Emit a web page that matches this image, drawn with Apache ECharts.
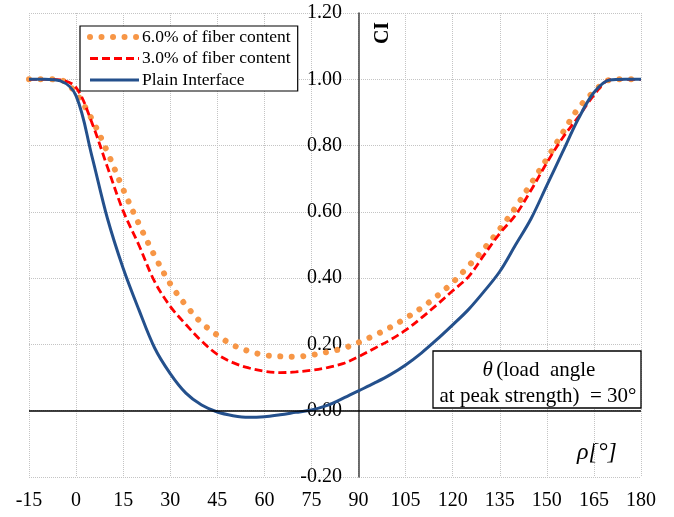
<!DOCTYPE html>
<html>
<head>
<meta charset="utf-8">
<script src="https://cdn.jsdelivr.net/npm/echarts@6/dist/echarts.min.js"></script>
<style>html,body{margin:0;padding:0;background:#fff;}#c{width:674px;height:517px;}</style>
</head>
<body>
<div id="c"></div>
<script>
var angles = [-15,-10,-5,0,5,10,15,20,25,30,35,40,45,50,55,60,65,70,75,80,85,90,95,100,105,110,115,120,125,130,135,140,145,150,155,160,165,170,175,180];
var fiber6 = [1,1,0.998,0.957,0.88,0.78,0.668,0.564,0.468,0.383,0.318,0.265,0.228,0.198,0.18,0.168,0.164,0.163,0.168,0.177,0.188,0.206,0.227,0.251,0.279,0.31,0.346,0.387,0.436,0.489,0.548,0.613,0.686,0.76,0.838,0.912,0.962,0.998,1,1];
var fiber3 = [1,1,0.998,0.975,0.87,0.735,0.603,0.5,0.39,0.315,0.26,0.21,0.17,0.145,0.129,0.119,0.115,0.117,0.122,0.13,0.142,0.163,0.188,0.213,0.243,0.28,0.32,0.362,0.404,0.47,0.535,0.59,0.666,0.748,0.823,0.886,0.952,0.998,1,1];
var plain = [1,1,0.995,0.95,0.77,0.58,0.43,0.305,0.19,0.112,0.053,0.017,-0.004,-0.015,-0.02,-0.018,-0.012,-0.005,0.002,0.016,0.037,0.06,0.083,0.108,0.138,0.174,0.215,0.259,0.305,0.36,0.42,0.5,0.58,0.68,0.78,0.88,0.96,0.998,1,1];
var seriesNames = ['6.0% of fiber content','3.0% of fiber content','Plain Interface'];
var xTicks = {min:-15, max:180, interval:15};
var yTicks = {min:-0.2, max:1.2, interval:0.2};

function pairs(ys){ return angles.map(function(a,i){ return [a, ys[i]]; }); }

var FONT = '"Liberation Serif","Times New Roman",serif';
var chart = echarts.init(document.getElementById('c'));
var gridLine = {show:true, lineStyle:{color:'#c4c4c4', type:'dotted', width:1}};
chart.setOption({
  animation:false,
  backgroundColor:'#fff',
  grid:{left:29, right:33, top:13, bottom:40, containLabel:false},
  xAxis:{type:'value', min:xTicks.min, max:xTicks.max, interval:xTicks.interval,
    axisLine:{show:false}, axisTick:{show:false}, splitLine:gridLine,
    axisLabel:{fontFamily:FONT, fontSize:20, color:'#000', margin:14}},
  yAxis:{type:'value', min:yTicks.min, max:yTicks.max, interval:yTicks.interval, offset:-330,
    axisLine:{show:true, onZero:false, lineStyle:{color:'#404040', width:1.5}},
    axisTick:{show:false}, splitLine:gridLine,
    axisLabel:{fontFamily:FONT, fontSize:20, color:'#000', margin:17,
      formatter:function(v){ return v.toFixed(2); }}},
  legend:{left:80, top:26, orient:'vertical', backgroundColor:'#fff', borderColor:'#000', borderWidth:1.2,
    padding:[2,7,2,7], itemWidth:49, itemHeight:14, itemGap:3.5, borderRadius:0,
    itemStyle:{opacity:0},
    lineStyle:{width:'inherit', type:'inherit', cap:'inherit'},
    textStyle:{fontFamily:FONT, fontSize:17.5, color:'#000', padding:[0,0,0,-2]},
    data:seriesNames},
  series:[
    {name:seriesNames[0], type:'line', data:pairs(fiber6), symbol:'none', smooth:0.35,
      color:'#F79646', lineStyle:{color:'#F79646', width:6, type:[0.01,11.5], cap:'round'}},
    {name:seriesNames[1], type:'line', data:pairs(fiber3), symbol:'none', smooth:0.35,
      color:'#FF0000', lineStyle:{color:'#FF0000', width:2.8, type:[8,4]}},
    {name:seriesNames[2], type:'line', data:pairs(plain), symbol:'none', smooth:0.35,
      color:'#24508C', lineStyle:{color:'#24508C', width:3},
      markLine:{silent:true, symbol:'none', label:{show:false}, lineStyle:{color:'#000', width:1.5, type:'solid'},
        data:[{yAxis:0}]}}
  ],
  graphic:[
    {type:'text', x:383, y:33, rotation:Math.PI/2, style:{text:'CI', font:'bold 20px ' + FONT, fill:'#000', align:'center', verticalAlign:'middle'}},
    {type:'text', x:597, y:453, style:{text:'ρ[°]', font:'italic 24px ' + FONT, fill:'#000', align:'center', verticalAlign:'middle'}},
    {type:'rect', shape:{x:433, y:351, width:208, height:57}, style:{fill:'#fff', stroke:'#000', lineWidth:1.3}, z:100},
    {type:'text', x:539, y:370, z:101, style:{text:'{i|θ} {n|(load  angle}', align:'center', verticalAlign:'middle',
      rich:{i:{font:'italic 21px ' + FONT, fill:'#000'}, n:{font:'21px ' + FONT, fill:'#000'}}}},
    {type:'text', x:538, y:396, z:101, style:{text:'at peak strength)  = 30°', font:'21px ' + FONT, fill:'#000', align:'center', verticalAlign:'middle'}}
  ]
});
</script>
</body>
</html>
